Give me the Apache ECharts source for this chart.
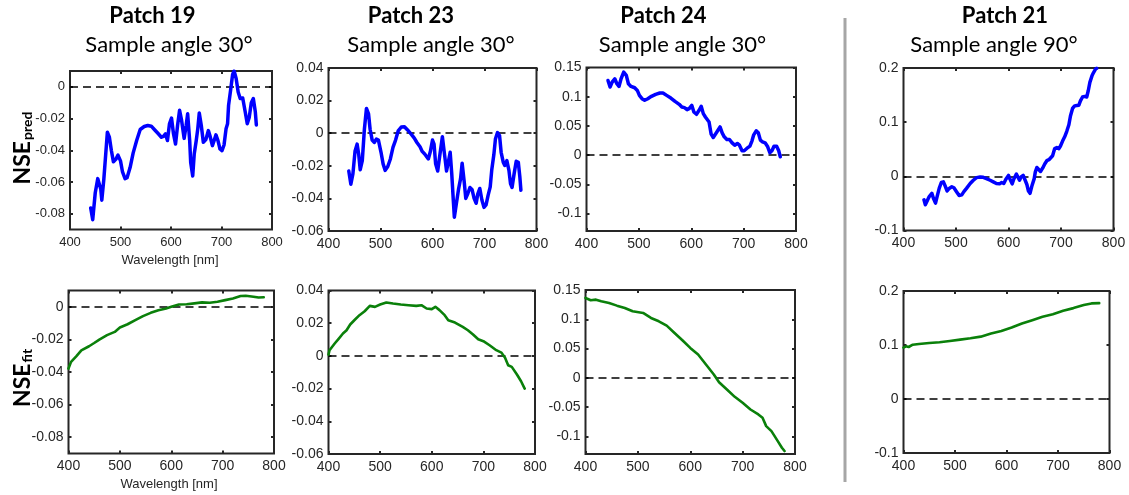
<!DOCTYPE html>
<html>
<head>
<meta charset="utf-8">
<script src="https://cdn.jsdelivr.net/npm/echarts@6/dist/echarts.min.js"></script>
<style>
html,body{margin:0;padding:0;background:#fff;}
#chart{width:1129px;height:495px;}
</style>
</head>
<body>
<div id="chart"></div>
<script>
// ---------- DATA ----------
const xTicks = [400, 500, 600, 700, 800];

// Patch 19, NSE_pred
const p19PredX = [441,445,450,455,461,463,467,471,474,478,482,486,491,495,500,504,509,513,519,525,532,539,547,554,561,567,574,581,585,589,593,597,601,605,609,613,617,621,626,630,633,637,639,643,646,650,653,656,660,664,669,674,677,682,686,689,693,697,701,705,709,712,714,718,722,725,729,733,737,742,747,751,755,759,763,767,769];
const p19PredY = [-0.0764,-0.0838,-0.0668,-0.0579,-0.0647,-0.0715,-0.0583,-0.0414,-0.0286,-0.0318,-0.0403,-0.0473,-0.0456,-0.0431,-0.0467,-0.0537,-0.0579,-0.0573,-0.0509,-0.0418,-0.0339,-0.0269,-0.0250,-0.0244,-0.0248,-0.0269,-0.0293,-0.0318,-0.0312,-0.0297,-0.0339,-0.0233,-0.0197,-0.0297,-0.0361,-0.0244,-0.0148,-0.0212,-0.0325,-0.0244,-0.0170,-0.0339,-0.0477,-0.0562,-0.0424,-0.0339,-0.0265,-0.0165,-0.0244,-0.0350,-0.0333,-0.0276,-0.0307,-0.0371,-0.0333,-0.0303,-0.0339,-0.0392,-0.0403,-0.0367,-0.0265,-0.0233,-0.0117,-0.0021,0.0078,0.0100,0.0053,-0.0032,-0.0074,-0.0070,-0.0159,-0.0233,-0.0191,-0.0100,-0.0074,-0.0159,-0.0240];

// Patch 23, NSE_pred
const p23PredX = [439,443,447,451,455,458,461,465,469,473,477,480,484,488,492,496,501,505,509,514,519,524,529,534,540,546,552,559,565,570,576,580,585,588,592,596,600,603,606,610,614,619,623,627,631,634,637,640,642,646,650,654,657,661,664,668,672,676,680,684,687,691,695,699,703,707,711,714,718,721,725,729,732,736,739,743,747,750,753,757,761,765,768,770];
const p23PredY = [-0.0232,-0.0313,-0.0248,-0.0111,-0.0067,-0.0127,-0.0224,-0.0168,0.0024,0.0152,0.0119,0.0024,-0.0042,-0.0057,-0.0036,-0.0042,-0.0117,-0.0188,-0.0228,-0.0204,-0.0158,-0.0087,-0.0042,0.0014,0.0038,0.0040,0.0020,-0.0006,-0.0030,-0.0057,-0.0083,-0.0111,-0.0127,-0.0137,-0.0158,-0.0111,-0.0042,-0.0067,-0.0188,-0.0232,-0.0137,-0.0022,-0.0127,-0.0232,-0.0168,-0.0117,-0.0248,-0.0410,-0.0515,-0.0430,-0.0345,-0.0279,-0.0184,-0.0299,-0.0400,-0.0370,-0.0333,-0.0345,-0.0400,-0.0430,-0.0374,-0.0339,-0.0410,-0.0455,-0.0440,-0.0380,-0.0329,-0.0224,-0.0131,-0.0036,0.0004,-0.0016,-0.0117,-0.0178,-0.0198,-0.0168,-0.0228,-0.0309,-0.0333,-0.0248,-0.0172,-0.0178,-0.0269,-0.0350];

// Patch 24, NSE_pred
const p24PredX = [441,445,449,454,458,462,466,471,476,480,485,492,497,501,506,511,517,524,532,540,546,553,561,569,577,582,587,592,596,601,605,610,615,619,623,627,630,634,638,642,647,651,655,659,663,668,673,678,683,688,692,697,701,706,712,716,719,724,728,732,736,741,746,750,754,758,763,767,770];
const p24PredY = [0.1278,0.1165,0.1250,0.1307,0.1222,0.1176,0.1307,0.1420,0.1364,0.1222,0.1176,0.1153,0.1108,0.1023,0.0966,0.0938,0.0966,0.1006,0.1040,0.1063,0.1063,0.1023,0.0977,0.0920,0.0869,0.0824,0.0813,0.0778,0.0795,0.0852,0.0739,0.0699,0.0767,0.0835,0.0710,0.0653,0.0682,0.0568,0.0358,0.0301,0.0369,0.0426,0.0483,0.0381,0.0313,0.0267,0.0267,0.0210,0.0170,0.0199,0.0170,0.0074,0.0074,0.0114,0.0153,0.0244,0.0341,0.0415,0.0381,0.0256,0.0227,0.0210,0.0142,0.0040,0.0074,0.0153,0.0153,0.0074,-0.0028];

// Patch 21, NSE_pred
const p21PredX = [439,441.6,445,449,454,457,461,464,468,472,476,480,483,487,492,496,501,506,511,515,520,527,533,539,546,552,558,565,571,577,583,587,591,595,600,603,607,610,615,618,621,624,628,631,635,638,641,645,649,651,654,657,661,665,669,673,677,680,684,688,692,696,699,703,707,711,715,718,722,726,730,734,737,741,745,749,752,755,759,762,766,768];
const p21PredY = [-0.0434,-0.0524,-0.0494,-0.0373,-0.0313,-0.0404,-0.0494,-0.0373,-0.0223,-0.0114,-0.0102,-0.0193,-0.0271,-0.0223,-0.0193,-0.0211,-0.0283,-0.0355,-0.0343,-0.0283,-0.0223,-0.0133,-0.0072,-0.0024,-0.0012,-0.0018,-0.0042,-0.0072,-0.0102,-0.0133,-0.0139,-0.0114,-0.0133,-0.0054,0.0018,-0.0054,-0.0139,-0.0054,0.0042,0.0030,-0.0072,-0.0012,0.0018,-0.0054,-0.0151,-0.0271,-0.0313,-0.0163,-0.0042,0.0078,0.0163,0.0127,0.0090,0.0151,0.0229,0.0289,0.0307,0.0319,0.0380,0.0512,0.0530,0.0512,0.0560,0.0651,0.0729,0.0831,0.0952,0.1114,0.1253,0.1301,0.1307,0.1313,0.1392,0.1464,0.1476,0.1464,0.1584,0.1735,0.1855,0.1916,0.1982,0.1994];

// Patch 19, NSE_fit
const p19FitX = [400,405,415,425,440,450,460,475,490,500,515,530,545,560,575,590,600,615,630,645,660,675,690,705,720,735,745,760,770,780];
const p19FitY = [-0.0379,-0.0338,-0.0304,-0.0267,-0.0242,-0.0222,-0.0201,-0.0174,-0.0154,-0.0127,-0.0107,-0.0082,-0.0057,-0.0037,-0.0021,-0.0010,0.0000,0.0014,0.0016,0.0021,0.0027,0.0025,0.0031,0.0041,0.0051,0.0066,0.0068,0.0062,0.0057,0.0059];

// Patch 23, NSE_fit
const p23FitX = [400,402,405,412,420,428,435,442,450,460,470,480,490,500,512,525,540,555,570,580,590,600,607,615,625,632,645,660,670,680,690,700,712,725,735,742,748,755,765,773,780];
const p23FitY = [0.0008,0.0035,0.0045,0.0076,0.0106,0.0137,0.0157,0.0192,0.0218,0.0249,0.0273,0.0306,0.0300,0.0314,0.0327,0.0320,0.0314,0.0310,0.0306,0.0310,0.0290,0.0286,0.0300,0.0280,0.0249,0.0218,0.0204,0.0178,0.0157,0.0131,0.0102,0.0090,0.0065,0.0035,0.0020,-0.0012,-0.0057,-0.0067,-0.0114,-0.0155,-0.0200];

// Patch 24, NSE_fit
const p24FitX = [400,410,420,430,445,460,475,490,510,525,540,555,570,585,600,615,630,645,655,670,685,700,715,730,738,745,755,765,775,780];
const p24FitY = [0.1364,0.1324,0.1335,0.1307,0.1278,0.1233,0.1193,0.1136,0.1108,0.1023,0.0966,0.0892,0.0767,0.0642,0.0511,0.0398,0.0227,0.0057,-0.0074,-0.0199,-0.0324,-0.0426,-0.0540,-0.0625,-0.0682,-0.0824,-0.0909,-0.1051,-0.1193,-0.1250];

// Patch 21, NSE_fit
const p21FitX = [400,405,410,418,430,450,470,490,510,530,550,570,590,610,630,650,670,690,710,730,750,765,780];
const p21FitY = [0.0950,0.0975,0.0963,0.1006,0.1019,0.1037,0.1050,0.1075,0.1100,0.1124,0.1155,0.1211,0.1261,0.1323,0.1398,0.1460,0.1522,0.1571,0.1634,0.1683,0.1739,0.1770,0.1776];

// y-axis ranges and tick labels per column
const yMin19 = -0.09, yMax19 = 0.01, yTicks19 = [-0.08,-0.06,-0.04,-0.02,0];
const yMin23 = -0.06, yMax23 = 0.04, yTicks23 = [-0.06,-0.04,-0.02,0,0.02,0.04];
const yMin24 = -0.13, yMax24 = 0.15, yTicks24 = [-0.1,-0.05,0,0.05,0.1,0.15];
const yMin21 = -0.1,  yMax21 = 0.2,  yTicks21 = [-0.1,0,0.1,0.2];

const patchNames = ['Patch 19','Patch 23','Patch 24','Patch 21'];
const angleNames = ['Sample angle 30°','Sample angle 30°','Sample angle 30°','Sample angle 90°'];
const xLabel = 'Wavelength [nm]';

// ---------- LAYOUT ----------
const panels = [
  {g:{left:70,   top:71,   width:202,   height:158.5}, x:p19PredX, y:p19PredY, min:yMin19, max:yMax19, ticks:yTicks19, color:'#0000ff', lw:3.5, fs:13},
  {g:{left:328.5,top:68,   width:208,   height:163},   x:p23PredX, y:p23PredY, min:yMin23, max:yMax23, ticks:yTicks23, color:'#0000ff', lw:3.5, fs:14},
  {g:{left:586.5,top:67.5, width:209.5, height:163.5}, x:p24PredX, y:p24PredY, min:yMin24, max:yMax24, ticks:yTicks24, color:'#0000ff', lw:3.5, fs:14},
  {g:{left:903.5,top:68,   width:210,   height:162.5}, x:p21PredX, y:p21PredY, min:yMin21, max:yMax21, ticks:yTicks21, color:'#0000ff', lw:3.5, fs:14},
  {g:{left:68.5, top:290.5,width:205.5, height:163},   x:p19FitX,  y:p19FitY,  min:yMin19, max:yMax19, ticks:yTicks19, color:'#0a800a', lw:2.6, fs:14},
  {g:{left:328.5,top:290.5,width:206.5, height:163.5}, x:p23FitX,  y:p23FitY,  min:yMin23, max:yMax23, ticks:yTicks23, color:'#0a800a', lw:2.6, fs:14},
  {g:{left:585.5,top:290,  width:209.5, height:164},   x:p24FitX,  y:p24FitY,  min:yMin24, max:yMax24, ticks:yTicks24, color:'#0a800a', lw:2.6, fs:14},
  {g:{left:903.5,top:291,  width:206,   height:162},   x:p21FitX,  y:p21FitY,  min:yMin21, max:yMax21, ticks:yTicks21, color:'#0a800a', lw:2.6, fs:14}
];

const AX = '#262626';
const grid = [], xAxis = [], yAxis = [], series = [];
panels.forEach((p, i) => {
  grid.push(Object.assign({show:true, borderColor:AX, borderWidth:2, backgroundColor:'#fff', outerBoundsMode:'none'}, p.g));
  const tickStyle = {show:true, inside:true, length:3, lineStyle:{color:AX, width:2}};
  const lab = {color:AX, fontFamily:'Liberation Sans, Arial, sans-serif', fontSize:p.fs};
  const noLine = {show:false, onZero:false};
  // bottom x
  xAxis.push({type:'value', gridIndex:i, min:400, max:800, interval:100, position:'bottom',
    axisLine:noLine, splitLine:{show:false},
    axisTick:Object.assign({}, tickStyle, {customValues:xTicks}),
    axisLabel:Object.assign({margin:6, showMinLabel:true, showMaxLabel:true, customValues:xTicks}, lab)});
  // top mirror x
  xAxis.push({type:'value', gridIndex:i, min:400, max:800, interval:100, position:'top',
    axisLine:noLine, splitLine:{show:false},
    axisTick:Object.assign({}, tickStyle, {customValues:xTicks}), axisLabel:{show:false}});
  // left y
  yAxis.push({type:'value', gridIndex:i, min:p.min, max:p.max, position:'left',
    axisLine:noLine, splitLine:{show:false},
    axisTick:Object.assign({}, tickStyle, {customValues:p.ticks}),
    axisLabel:Object.assign({margin:5, showMinLabel:true, showMaxLabel:true, customValues:p.ticks,
      formatter:v => String(+v.toFixed(3))}, lab)});
  // right mirror y
  yAxis.push({type:'value', gridIndex:i, min:p.min, max:p.max, position:'right',
    axisLine:noLine, splitLine:{show:false},
    axisTick:Object.assign({}, tickStyle, {customValues:p.ticks}), axisLabel:{show:false}});
  series.push({type:'line', xAxisIndex:2*i, yAxisIndex:2*i, symbol:'none', silent:true,
    data:p.x.map((v, k) => [v, p.y[k]]),
    lineStyle:{color:p.color, width:p.lw, join:'round', cap:'round'},
    z:3,
    markLine:{silent:true, symbol:'none', label:{show:false},
      lineStyle:{color:'#000', type:[8,5], width:1.5}, data:[{yAxis:0}], z:2, animation:false}
  });
});

// ---------- TEXT / DECORATION ----------
const titleFont = 'Lato, "Open Sans", sans-serif';
const patchCx = [152.5, 411, 663.5, 1005];
const angleCx = [169, 431, 682.5, 994];
const graphic = [];
patchNames.forEach((t, i) => {
  graphic.push({type:'text', x:patchCx[i], y:16, style:{text:t, fill:'#000', font:'bold 22px ' + titleFont, align:'center', verticalAlign:'middle'}});
  graphic.push({type:'text', x:angleCx[i], y:45, style:{text:angleNames[i], fill:'#000', font:'22px ' + titleFont, align:'center', verticalAlign:'middle'}});
});
graphic.push({type:'text', x:170, y:260, style:{text:xLabel, fill:AX, font:'13px Liberation Sans, Arial, sans-serif', align:'center', verticalAlign:'middle'}});
graphic.push({type:'text', x:169, y:484, style:{text:xLabel, fill:AX, font:'13px Liberation Sans, Arial, sans-serif', align:'center', verticalAlign:'middle'}});
const yRich = {
  a:{fontFamily:titleFont, fontWeight:'bold', fontSize:23, fill:'#000', lineHeight:28, verticalAlign:'bottom'},
  b:{fontFamily:titleFont, fontWeight:'bold', fontSize:14, fill:'#000', lineHeight:28, verticalAlign:'bottom', padding:[0,0,0,1]}
};
graphic.push({type:'text', x:20, y:148, rotation:Math.PI/2, style:{text:'{a|NSE}{b|pred}', rich:yRich, align:'center', verticalAlign:'middle'}});
graphic.push({type:'text', x:20, y:378, rotation:Math.PI/2, style:{text:'{a|NSE}{b|fit}', rich:yRich, align:'center', verticalAlign:'middle'}});
graphic.push({type:'rect', shape:{x:843.5, y:18, width:3, height:464}, style:{fill:'#a6a6a6'}});

const chart = echarts.init(document.getElementById('chart'), null, {renderer:'canvas'});
chart.setOption({animation:false, grid, xAxis, yAxis, series, graphic});
</script>
</body>
</html>
